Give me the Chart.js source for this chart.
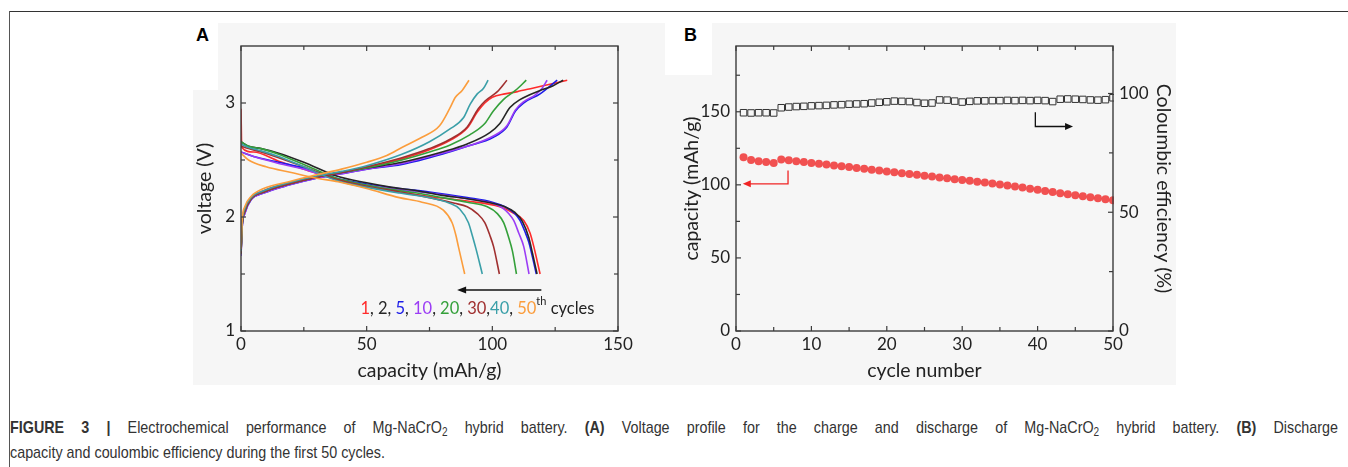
<!DOCTYPE html>
<html>
<head>
<meta charset="utf-8">
<script src="https://cdn.jsdelivr.net/npm/chart.js@4.4.0/dist/chart.umd.min.js"></script>
<style>
body { margin:0; width:1348px; height:467px; background:#fff; position:relative; overflow:hidden; }
#lineTop { position:absolute; left:9px; top:11px; width:1339px; height:1px; background:#333; }
#lineLeft { position:absolute; left:9px; top:11px; width:1px; height:456px; background:#555; }
#panel { position:absolute; left:193px; top:23px; width:983px; height:362px; background:#f6f6f6; }
.gap { position:absolute; background:#fff; }
.letter { position:absolute; font:bold 18px "Liberation Sans", Arial, sans-serif; line-height:18px; color:#000; }
canvas { position:absolute; }
.cap { position:absolute; left:10px; font:17px "Liberation Sans", Arial, sans-serif; line-height:25px; color:#333; white-space:nowrap; transform-origin:0 0; }
.cap sub { font-size:70%; vertical-align:-3px; line-height:0; }
#cap1 { top:415px; text-align:justify; text-align-last:justify; white-space:normal; }
#cap2 { top:440px; }
</style>
</head>
<body>
<div id="lineTop"></div>
<div id="lineLeft"></div>
<div id="panel"></div>
<div class="gap" style="left:193px;top:23px;width:25px;height:67px"></div>
<div class="gap" style="left:665px;top:23px;width:47px;height:52px"></div>
<div class="letter" style="left:196px;top:26px">A</div>
<div class="letter" style="left:684px;top:26px">B</div>
<canvas id="chartA" width="472" height="362" style="left:193px;top:23px"></canvas>
<canvas id="chartB" width="511" height="362" style="left:665px;top:23px"></canvas>
<div class="cap" id="cap1"><b>FIGURE 3 |</b> Electrochemical performance of Mg-NaCrO<sub>2</sub> hybrid battery. <b>(A)</b> Voltage profile for the charge and discharge of Mg-NaCrO<sub>2</sub> hybrid battery. <b>(B)</b> Discharge</div>
<div class="cap" id="cap2">capacity and coulombic efficiency during the first 50 cycles.</div>
<script>
// ---- panel A: voltage profiles, [capacity mAh/g, voltage V]
const cycleLabels = ['1', '2', '5', '10', '20', '30', '40', '50'];

const charge1 = [[0,1.7],[0.5,1.96],[1.5,2.06],[4,2.17],[9,2.23],[19,2.3],[30,2.35],[40,2.39],[50,2.43],[64,2.51],[75,2.59],[83,2.67],[90,2.78],[94,2.92],[97,3.0],[100,3.05],[105,3.08],[110,3.1],[116,3.13],[126,3.18],[129.8,3.2]];
const discharge1 = [[0,2.95],[0.3,2.61],[5,2.57],[15,2.49],[25,2.42],[38,2.33],[50,2.27],[63,2.22],[75,2.18],[90,2.14],[103,2.09],[108,2.04],[112.5,1.97],[115,1.86],[116.5,1.74],[119,1.5]];
const charge2 = [[0,1.68],[0.5,1.94],[1.5,2.05],[4,2.16],[9,2.22],[19,2.29],[30,2.35],[40,2.39],[50,2.43],[64,2.48],[80,2.57],[90,2.64],[99,2.74],[103,2.82],[107,2.96],[111,3.03],[119,3.11],[124,3.15],[128.2,3.2]];
const discharge2 = [[0,2.66],[3,2.62],[8,2.6],[15,2.56],[25,2.48],[38,2.36],[50,2.3],[60,2.26],[70,2.23],[80,2.19],[90,2.16],[100,2.12],[105,2.09],[109,2.04],[112,1.96],[114.5,1.82],[116,1.68],[117.8,1.5]];
const charge5 = [[0,1.66],[0.5,1.92],[1.5,2.03],[4,2.15],[9,2.21],[19,2.28],[30,2.34],[40,2.38],[50,2.42],[64,2.46],[80,2.55],[90,2.62],[100.4,2.7],[105.8,2.79],[109.2,2.93],[112.4,3.0],[119,3.08],[125.8,3.2]];
const discharge5 = [[0,2.57],[5,2.53],[15,2.48],[25,2.43],[38,2.34],[50,2.29],[63,2.25],[75,2.22],[90,2.17],[100,2.13],[105,2.09],[109,2.03],[111,1.97],[113,1.87],[114.5,1.78],[117.5,1.5]];
const charge10 = [[0,1.66],[0.5,1.92],[1.5,2.03],[4,2.15],[9,2.21],[19,2.28],[30,2.34],[40,2.38],[50,2.42],[64,2.47],[80,2.56],[90,2.62],[100.4,2.71],[105.8,2.8],[109.2,2.94],[112.4,3.01],[117,3.07],[119.5,3.12],[121.8,3.2]];
const discharge10 = [[0,2.57],[5,2.53],[15,2.47],[25,2.42],[38,2.33],[50,2.28],[63,2.24],[75,2.21],[90,2.16],[100,2.12],[104,2.08],[106.5,2.03],[108.5,1.97],[110.5,1.86],[112.5,1.74],[114.6,1.5]];
const charge20 = [[0,1.68],[0.5,1.94],[1.5,2.05],[4,2.16],[9,2.22],[19,2.29],[30,2.35],[40,2.39],[50,2.43],[64,2.5],[75,2.57],[83,2.63],[91,2.72],[97,2.82],[100.4,2.93],[104.4,3.03],[109.2,3.11],[113.5,3.2]];
const discharge20 = [[0,2.66],[3,2.62],[8,2.6],[15,2.55],[25,2.46],[38,2.34],[50,2.28],[60,2.24],[70,2.21],[80,2.17],[90,2.13],[98,2.09],[102,2.03],[104.5,1.95],[106.5,1.82],[108,1.7],[109.6,1.5]];
const charge30 = [[0,1.68],[0.5,1.94],[1.5,2.05],[4,2.16],[9,2.22],[19,2.29],[30,2.35],[40,2.39],[50,2.44],[64,2.52],[75,2.6],[83,2.68],[90,2.79],[94.4,2.95],[97.2,3.02],[102,3.1],[105.8,3.2]];
const discharge30 = [[0,2.62],[3,2.6],[8,2.57],[15,2.52],[25,2.44],[38,2.33],[50,2.27],[63,2.22],[75,2.17],[85,2.12],[90,2.09],[94,2.03],[97,1.95],[99,1.84],[100.5,1.74],[102.8,1.5]];
const charge40 = [[0,1.7],[0.5,1.96],[1.5,2.07],[4,2.17],[9,2.23],[19,2.3],[30,2.36],[40,2.4],[50,2.45],[64,2.55],[75,2.66],[83,2.77],[88.5,2.87],[91.2,2.99],[94,3.08],[96.5,3.13],[98.3,3.2]];
const discharge40 = [[0,2.64],[3,2.61],[8,2.58],[15,2.53],[25,2.44],[38,2.32],[50,2.26],[63,2.21],[75,2.17],[83,2.12],[87,2.07],[90.5,1.95],[92,1.84],[93.5,1.72],[96,1.5]];
const charge50 = [[0,1.72],[0.5,1.98],[1.5,2.09],[4,2.18],[9,2.25],[19,2.31],[30,2.37],[40,2.42],[50,2.48],[58,2.54],[64,2.61],[72,2.7],[79,2.8],[83,2.95],[85.3,3.05],[88,3.11],[90.7,3.2]];
const discharge50 = [[0,2.56],[3,2.5],[10,2.44],[20,2.39],[30,2.34],[38.6,2.31],[50,2.25],[63,2.17],[72,2.13],[80.5,2.06],[84,1.95],[85.5,1.84],[86.5,1.74],[89,1.5]];

const chargeCurves = [charge1, charge2, charge5, charge10, charge20, charge30, charge40, charge50];
const dischargeCurves = [discharge1, discharge2, discharge5, discharge10, discharge20, discharge30, discharge40, discharge50];

const capTicksA = [0, 50, 100, 150];
const capMinorA = [25, 75, 125];
const voltTicks = [1, 2, 3];
const voltMinor = [1.5, 2.5];

// arrow and label anchors in data units (capacity, voltage)
const arrowA = [[119.5, 1.36], [86, 1.36]];
const labelA = [47.5, 1.2];

// ---- panel B: cycling
const cycleB = [1,2,3,4,5,6,7,8,9,10,11,12,13,14,15,16,17,18,19,20,21,22,23,24,25,26,27,28,29,30,31,32,33,34,35,36,37,38,39,40,41,42,43,44,45,46,47,48,49,50];
const capacityB = [118.8,117.0,116.2,115.6,115.0,117.3,116.8,116.2,115.6,115.0,114.5,113.9,113.3,112.8,112.2,111.6,111.0,110.4,109.8,109.2,108.6,108.0,107.5,106.9,106.3,105.7,105.1,104.5,103.9,103.3,102.8,102.2,101.6,101.0,100.3,99.6,98.8,98.1,97.3,96.6,95.8,95.1,94.3,93.6,92.9,92.2,91.5,90.8,90.1,89.4];
const efficiencyB = [91.9,91.8,91.9,91.9,91.8,94.0,94.3,94.5,94.6,94.8,94.9,95.0,95.2,95.3,95.5,95.6,95.7,96.0,96.3,96.5,96.8,96.7,96.6,96.2,95.9,96.0,97.3,97.2,96.8,96.4,96.7,96.9,96.9,97.0,97.0,97.1,97.0,97.1,97.0,97.1,97.0,96.6,97.6,97.7,97.6,97.5,97.3,97.2,97.4,98.2];

const cycleTicksB = [0, 10, 20, 30, 40, 50];
const cycleMinorB = [5, 15, 25, 35, 45];
const capTicksB = [0, 50, 100, 150];
const capMinorB = [25, 75, 125, 175];
const effTicks = [0, 50, 100];
const effMinor = [25, 75];

const arrowCap = [[6.9, 109.8], [6.9, 100.7], [0.9, 100.7]];
const arrowEff = [[39.7, 92.1], [39.7, 86.1], [44.7, 86.1]];

// ---- styles
const cycleColors = ['#ff2b2b', '#262626', '#1c1ce8', '#9b3cf5', '#34a03a', '#a03030', '#3a9fa8', '#fb9d3c'];
const drawOrder = [7, 6, 5, 4, 1, 3, 2, 0];

Chart.defaults.font.family = 'Lato, sans-serif';
Chart.defaults.color = '#222';

// frame + inward ticks on every side
const frameTicks = {
  id: 'frameTicks',
  afterDraw(chart, args, opts) {
    const { ctx, chartArea: a } = chart;
    ctx.save();
    ctx.strokeStyle = '#3c3c3c';
    ctx.lineWidth = 1.4;
    ctx.strokeRect(a.left, a.top, a.right - a.left, a.bottom - a.top);
    ctx.lineWidth = 1.2;
    opts.marks.forEach(m => {
      const s = chart.scales[m.axis];
      const all = m.major.map(v => [v, 5]).concat(m.minor.map(v => [v, 4]));
      all.forEach(([v, len]) => {
        const p = s.getPixelForValue(v);
        m.sides.forEach(side => {
          ctx.beginPath();
          if (side === 'bottom') { ctx.moveTo(p, a.bottom); ctx.lineTo(p, a.bottom - len); }
          if (side === 'top') { ctx.moveTo(p, a.top); ctx.lineTo(p, a.top + len); }
          if (side === 'left') { ctx.moveTo(a.left, p); ctx.lineTo(a.left + len, p); }
          if (side === 'right') { ctx.moveTo(a.right, p); ctx.lineTo(a.right - len, p); }
          ctx.stroke();
        });
      });
    });
    ctx.restore();
  }
};

function axisTicks(values) {
  return s => { s.ticks = values.map(v => ({ value: v })); };
}

function arrowHead(ctx, x, y, dir, len, half) {
  ctx.beginPath();
  ctx.moveTo(x, y);
  ctx.lineTo(x - dir * len, y - half);
  ctx.lineTo(x - dir * len, y + half);
  ctx.closePath();
  ctx.fill();
}

const notesA = {
  id: 'notesA',
  afterDatasetsDraw(chart) {
    const { ctx, scales: { x, y } } = chart;
    const x0 = x.getPixelForValue(arrowA[0][0]);
    const x1 = x.getPixelForValue(arrowA[1][0]);
    const y0 = y.getPixelForValue(arrowA[0][1]);
    ctx.save();
    ctx.strokeStyle = '#111';
    ctx.fillStyle = '#111';
    ctx.lineWidth = 1.6;
    ctx.beginPath(); ctx.moveTo(x0, y0); ctx.lineTo(x1 + 6, y0); ctx.stroke();
    arrowHead(ctx, x1, y0, -1, 9, 3.5);

    const seps = [', ', ', ', ', ', ', ', ', ', ',', ', '];
    let tx = x.getPixelForValue(labelA[0]);
    const ty = y.getPixelForValue(labelA[1]);
    ctx.textBaseline = 'middle';
    ctx.textAlign = 'left';
    const put = (t, c, size, dy) => {
      ctx.font = size + 'px Lato';
      ctx.fillStyle = c;
      ctx.fillText(t, tx, ty + dy);
      tx += ctx.measureText(t).width;
    };
    cycleLabels.forEach((lab, i) => {
      put(lab, cycleColors[i], 16.5, 0);
      if (i < seps.length) put(seps[i], '#222', 16.5, 0);
    });
    put('th', '#222', 11, -7);
    put(' cycles', '#222', 16.5, 0);
    ctx.restore();
  }
};

const notesB = {
  id: 'notesB',
  afterDatasetsDraw(chart) {
    const { ctx, scales } = chart;
    const path = (pts, yKey) => pts.map(([cx, cy]) => [scales.x.getPixelForValue(cx), scales[yKey].getPixelForValue(cy)]);
    ctx.save();
    ctx.lineWidth = 1.3;
    [[arrowCap, 'y', '#f02424', -1], [arrowEff, 'y2', '#111', 1]].forEach(([pts, key, col, dir]) => {
      const p = path(pts, key);
      ctx.strokeStyle = col;
      ctx.fillStyle = col;
      ctx.beginPath();
      ctx.moveTo(p[0][0], p[0][1]);
      ctx.lineTo(p[1][0], p[1][1]);
      ctx.lineTo(p[2][0] - dir * 6, p[2][1]);
      ctx.stroke();
      arrowHead(ctx, p[2][0], p[2][1], dir, 8, 3.5);
    });
    ctx.restore();
  }
};

const tickFont = { size: 17 };
const titleFont = { size: 19.5 };

// ---- chart A
const datasetsA = [];
drawOrder.forEach(i => {
  [chargeCurves[i], dischargeCurves[i]].forEach(curve => {
    datasetsA.push({
      data: curve.map(([c, v]) => ({ x: c, y: v })),
      borderColor: cycleColors[i],
      borderWidth: 1.6,
      pointRadius: 0,
      showLine: true,
      cubicInterpolationMode: 'monotone',
      fill: false
    });
  });
});

new Chart(document.getElementById('chartA'), {
  type: 'scatter',
  data: { datasets: datasetsA },
  options: {
    responsive: false,
    animation: false,
    devicePixelRatio: 1,
    layout: { padding: { top: 23, right: 47, left: 0, bottom: 0 } },
    plugins: {
      legend: { display: false },
      tooltip: { enabled: false },
      frameTicks: {
        marks: [
          { axis: 'x', major: capTicksA, minor: capMinorA, sides: ['bottom', 'top'] },
          { axis: 'y', major: voltTicks, minor: voltMinor, sides: ['left', 'right'] }
        ]
      }
    },
    scales: {
      x: {
        type: 'linear', min: 0, max: 150,
        afterBuildTicks: axisTicks(capTicksA),
        afterFit: s => { s.height = 54; },
        grid: { display: false, drawTicks: false },
        border: { display: false },
        ticks: { padding: 3, font: tickFont, maxRotation: 0 },
        title: { display: true, text: 'capacity (mAh/g)', font: titleFont, padding: { top: 0, bottom: 3 } }
      },
      y: {
        type: 'linear', min: 1, max: 3.5,
        afterBuildTicks: axisTicks(voltTicks),
        afterFit: s => { s.width = 48; },
        grid: { display: false, drawTicks: false },
        border: { display: false },
        ticks: { padding: 6, font: tickFont },
        title: { display: true, text: 'voltage (V)', font: titleFont, padding: { top: 0, bottom: 0 } }
      }
    }
  },
  plugins: [frameTicks, notesA]
});

// ---- chart B
new Chart(document.getElementById('chartB'), {
  type: 'scatter',
  data: {
    datasets: [
      {
        data: cycleB.map((c, i) => ({ x: c, y: efficiencyB[i] })),
        yAxisID: 'y2',
        pointStyle: 'rect',
        pointRadius: 4.6,
        borderColor: '#333',
        borderWidth: 1,
        backgroundColor: 'rgba(0,0,0,0)',
        clip: 1
      },
      {
        data: cycleB.map((c, i) => ({ x: c, y: capacityB[i] })),
        yAxisID: 'y',
        pointStyle: 'circle',
        pointRadius: 4,
        borderWidth: 0,
        backgroundColor: 'rgba(240,52,52,0.85)',
        clip: 1
      }
    ]
  },
  options: {
    responsive: false,
    animation: false,
    devicePixelRatio: 1,
    layout: { padding: { top: 23, right: 0, left: 0, bottom: 0 } },
    plugins: {
      legend: { display: false },
      tooltip: { enabled: false },
      frameTicks: {
        marks: [
          { axis: 'x', major: cycleTicksB, minor: cycleMinorB, sides: ['bottom', 'top'] },
          { axis: 'y', major: capTicksB, minor: capMinorB, sides: ['left'] },
          { axis: 'y2', major: effTicks, minor: effMinor, sides: ['right'] }
        ]
      }
    },
    scales: {
      x: {
        type: 'linear', min: 0, max: 50,
        afterBuildTicks: axisTicks(cycleTicksB),
        afterFit: s => { s.height = 54; },
        grid: { display: false, drawTicks: false },
        border: { display: false },
        ticks: { padding: 3, font: tickFont, maxRotation: 0 },
        title: { display: true, text: 'cycle number', font: titleFont, padding: { top: 0, bottom: 3 } }
      },
      y: {
        type: 'linear', position: 'left', min: 0, max: 195,
        afterBuildTicks: axisTicks(capTicksB),
        afterFit: s => { s.width = 71; },
        grid: { display: false, drawTicks: false },
        border: { display: false },
        ticks: { padding: 6, font: tickFont },
        title: { display: true, text: 'capacity (mAh/g)', font: titleFont, padding: { top: 15, bottom: 0 } }
      },
      y2: {
        type: 'linear', position: 'right', min: 0, max: 120,
        afterBuildTicks: axisTicks(effTicks),
        afterFit: s => { s.width = 63; },
        grid: { display: false, drawTicks: false },
        border: { display: false },
        ticks: { padding: 6, font: tickFont },
        title: { display: true, text: 'Coloumbic efficiency (%)', font: titleFont, padding: { top: 1, bottom: 0 } }
      }
    }
  },
  plugins: [frameTicks, notesB]
});

// caption: condensed look, second line ends near x=385, first line justified to x=1338
const cap1 = document.getElementById('cap1');
const cap2 = document.getElementById('cap2');
const squeeze = 375 / cap2.getBoundingClientRect().width;
cap2.style.transform = 'scaleX(' + squeeze + ')';
cap1.style.width = (1328 / squeeze) + 'px';
cap1.style.transform = 'scaleX(' + squeeze + ')';
</script>
</body>
</html>
